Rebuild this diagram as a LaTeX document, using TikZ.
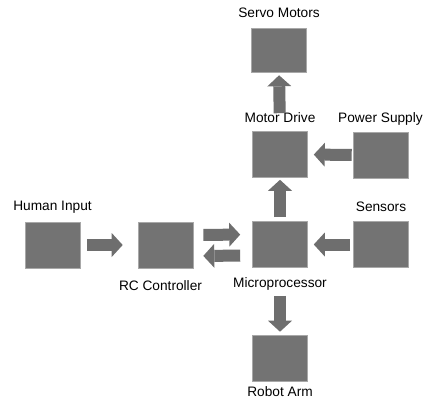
\documentclass[tikz,border=0pt]{standalone}
\usepackage{fontspec}
\setmainfont{Liberation Sans}
\usetikzlibrary{arrows.meta}
\definecolor{boxgray}{HTML}{737373}
\definecolor{boxedge}{HTML}{A8A8A8}
\definecolor{arrgray}{HTML}{6E6E6E}
\tikzset{
  blk/.style={draw=boxedge, line width=0.6pt, fill=boxgray, minimum width=55pt, minimum height=46pt, inner sep=0pt},
  lbl/.style={font=\fontsize{13.7}{16}\selectfont, inner sep=0pt, anchor=base},
  barrow/.style={draw=arrgray, line width=12pt, -{Triangle[length=11pt,width=24pt,line width=0pt]}}
}
\begin{document}
\begin{tikzpicture}[x=1pt,y=-1pt]
\useasboundingbox[fill=white] (0,0) rectangle (425,406);
% boxes
\node[blk] (hi) at (52.5,245) {};
\node[blk] (rc) at (165.5,245) {};
\node[blk] (mp) at (280,244.5) {};
\node[blk] (sn) at (381,244.5) {};
\node[blk] (md) at (280,154.5) {};
\node[blk] (ps) at (380.5,155) {};
\node[blk, minimum height=44pt] (sm) at (279,50) {};
\node[blk] (ra) at (280,358) {};
% labels
\node[lbl] (hil) at ([yshift=11pt]hi.north) {Human Input};
\node[lbl] (snl) at ([yshift=10pt]sn.north) {Sensors};
\node[lbl] (mdl) at ([yshift=9pt]md.north) {Motor Drive};
\node[lbl] (psl) at ([yshift=9pt]ps.north) {Power Supply};
\node[lbl] (sml) at ([yshift=10pt]sm.north) {Servo Motors};
\node[lbl] (rcl) at ([xshift=-5pt,yshift=-22pt]rc.south) {RC Controller};
\node[lbl] (mpl) at ([yshift=-20pt]mp.south) {Microprocessor};
\node[lbl] (ral) at ([yshift=-15pt]ra.south) {Robot Arm};
% arrows
\draw[barrow, shorten <=7pt, shorten >=15pt] (hi.east) -- (rc.west);
\draw[barrow, shorten <=10pt, shorten >=12pt] ([yshift=10pt]rc.east) -- ([yshift=10pt]mp.west);
\draw[barrow, shorten <=12pt, shorten >=10pt] ([yshift=-11pt]mp.west) -- ([yshift=-11pt]rc.east);
\draw[barrow, shorten <=3pt, shorten >=6pt] (sn.west) -- (mp.east);
\draw[barrow, shorten <=4pt, shorten >=2pt] (mp.north) -- (md.south);
\draw[barrow, shorten <=1pt, shorten >=6pt] (ps.west) -- (md.east);
\draw[barrow, shorten <=18pt, shorten >=3pt] (md.north) -- (sm.south);
\draw[barrow, shorten <=28pt, shorten >=3pt] (mp.south) -- (ra.north);
\end{tikzpicture}
\end{document}
